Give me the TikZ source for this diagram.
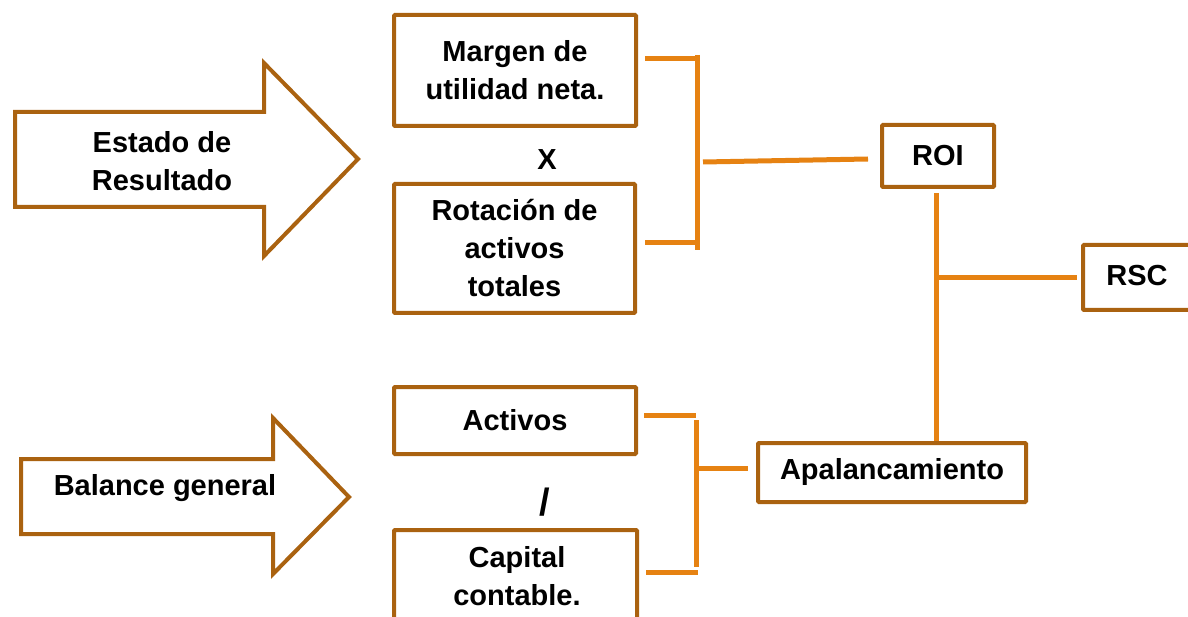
\documentclass[tikz,border=0pt]{standalone}
\usepackage{fontspec}
\setmainfont{Liberation Sans}
\definecolor{boxc}{RGB}{170,98,16}
\definecolor{linec}{RGB}{230,130,18}
\begin{document}
\begin{tikzpicture}[x=1pt,y=-1pt,
  txt/.style={font=\fontsize{29}{38}\selectfont\bfseries, align=center, inner sep=0pt},
  box/.style={txt, draw=boxc, line width=4pt, fill=white, rounded corners=1pt},
  conn/.style={draw=linec, line width=5pt},
  bigarrow/.style={draw=boxc, line width=4pt, fill=white, line join=miter}]
\clip (0,0) rectangle (1188,617);
% big arrows
\draw[bigarrow] (15,112) -- (264,112) -- (264,63) -- (358,159) -- (264,256) -- (264,207) -- (15,207) -- cycle;
\node[txt] (estado) at (162,161) {Estado de\\Resultado};
\draw[bigarrow] (21,459) -- (273,459) -- (273,418) -- (349,497) -- (273,574) -- (273,534) -- (21,534) -- cycle;
\node[txt] (balance) at (165,488) {Balance general};
% boxes
\node[box, minimum width=242pt, minimum height=111pt] (mu) at (515,70.5) {Margen de\\utilidad neta.};
\node[txt] (por) at (547,160) {X};
\node[box, minimum width=241pt, minimum height=129pt] (rot) at (514.5,248.5) {Rotación de\\activos\\totales};
\node[box, minimum width=112pt, minimum height=62pt] (roi) at (938,156) {ROI};
\node[box, minimum width=117pt, minimum height=65pt] (rsc) at (1141.5,277.5) {};
\node[txt] (rsctext) at (1137,276) {RSC};
\node[box, minimum width=242pt, minimum height=67pt] (act) at (515,420.5) {Activos};
\node[txt, font=\fontsize{38}{40}\selectfont\bfseries] (entre) at (545,502) {/};
\node[box, minimum width=243pt, minimum height=110pt] (cap) at (515.5,585) {};
\node[txt] (captext) at (517,576) {Capital\\contable.};
\node[box, minimum width=268pt, minimum height=59pt] (apal) at (892,472.5) {Apalancamiento};
% connector points
\coordinate (t1) at (645,59);
\coordinate (t2) at (697,59);
\coordinate (t3) at (697,55);
\coordinate (t4) at (697,250);
\coordinate (t5) at (645,243);
\coordinate (t6) at (697,243);
\coordinate (t7) at (697,162);
\coordinate (t8) at (868,159);
\coordinate (r1) at (936,193);
\coordinate (r2) at (936,441);
\coordinate (r3) at (936,278);
\coordinate (r4) at (1077,278);
\coordinate (b1) at (644,415);
\coordinate (b2) at (696,415);
\coordinate (b3) at (696,420);
\coordinate (b4) at (696,567);
\coordinate (b5) at (646,572);
\coordinate (b6) at (698,572);
\coordinate (b7) at (696,468);
\coordinate (b8) at (748,468);
% connectors
\draw[conn] (t1) -- (t2);
\draw[conn] (t3) -- (t4);
\draw[conn] (t5) -- (t6);
\draw[conn] ([xshift=6pt]t7) -- (t8);
\draw[conn] (r1) -- (r2);
\draw[conn] (r3) -- (r4);
\draw[conn] (b1) -- (b2);
\draw[conn] (b3) -- (b4);
\draw[conn] (b5) -- (b6);
\draw[conn] (b7) -- (b8);
\end{tikzpicture}
\end{document}
